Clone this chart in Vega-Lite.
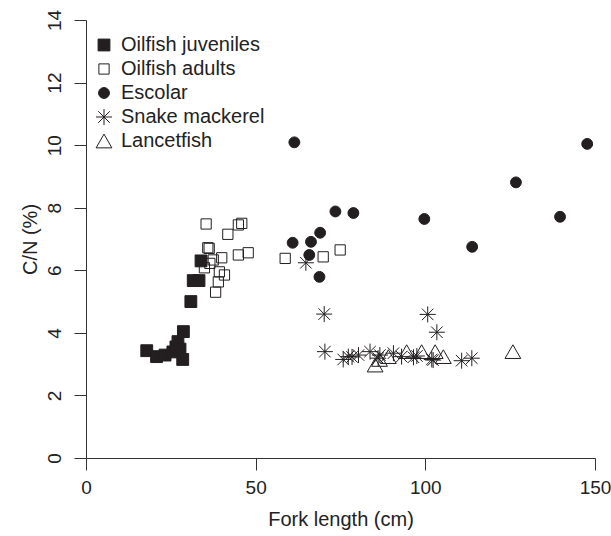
{
  "$schema": "https://vega.github.io/schema/vega-lite/v6.json",
  "width": 509,
  "height": 438,
  "autosize": {"type": "none"},
  "padding": {"left": 86, "top": 20, "right": 16, "bottom": 78},
  "background": "white",
  "config": {
    "view": {"stroke": null},
    "font": "Liberation Sans",
    "axis": {"grid": false, "domainColor": "#333", "tickColor": "#333", "labelColor": "#222", "titleColor": "#222", "labelFont": "Liberation Sans", "titleFont": "Liberation Sans", "labelFontSize": 19, "titleFontSize": 20, "titleFontWeight": "normal", "tickSize": 12, "domainWidth": 1, "tickWidth": 1},
    "legend": {"labelFont": "Liberation Sans", "labelFontSize": 20, "labelColor": "#222"}
  },
  "data": {"values": [
    {"s": "Oilfish juveniles", "fl": 17.9, "cn": 3.43},
    {"s": "Oilfish juveniles", "fl": 20.8, "cn": 3.24},
    {"s": "Oilfish juveniles", "fl": 23.3, "cn": 3.29},
    {"s": "Oilfish juveniles", "fl": 25.6, "cn": 3.39},
    {"s": "Oilfish juveniles", "fl": 26.5, "cn": 3.55},
    {"s": "Oilfish juveniles", "fl": 27.1, "cn": 3.72},
    {"s": "Oilfish juveniles", "fl": 27.7, "cn": 3.48},
    {"s": "Oilfish juveniles", "fl": 28.7, "cn": 4.04},
    {"s": "Oilfish juveniles", "fl": 28.5, "cn": 3.15},
    {"s": "Oilfish juveniles", "fl": 30.9, "cn": 5.0},
    {"s": "Oilfish juveniles", "fl": 31.6, "cn": 5.67},
    {"s": "Oilfish juveniles", "fl": 33.3, "cn": 5.67},
    {"s": "Oilfish juveniles", "fl": 33.9, "cn": 6.3},
    {"s": "Oilfish adults", "fl": 35.4, "cn": 7.48},
    {"s": "Oilfish adults", "fl": 41.8, "cn": 7.15},
    {"s": "Oilfish adults", "fl": 44.9, "cn": 7.45},
    {"s": "Oilfish adults", "fl": 45.9, "cn": 7.5},
    {"s": "Oilfish adults", "fl": 35.9, "cn": 6.72},
    {"s": "Oilfish adults", "fl": 36.3, "cn": 6.7},
    {"s": "Oilfish adults", "fl": 40.0, "cn": 6.4},
    {"s": "Oilfish adults", "fl": 44.9, "cn": 6.49},
    {"s": "Oilfish adults", "fl": 47.8, "cn": 6.56},
    {"s": "Oilfish adults", "fl": 34.9, "cn": 6.08},
    {"s": "Oilfish adults", "fl": 36.5, "cn": 6.22},
    {"s": "Oilfish adults", "fl": 37.5, "cn": 6.33},
    {"s": "Oilfish adults", "fl": 39.3, "cn": 5.95},
    {"s": "Oilfish adults", "fl": 40.8, "cn": 5.85},
    {"s": "Oilfish adults", "fl": 39.0, "cn": 5.63},
    {"s": "Oilfish adults", "fl": 38.2, "cn": 5.3},
    {"s": "Oilfish adults", "fl": 58.7, "cn": 6.38},
    {"s": "Oilfish adults", "fl": 69.9, "cn": 6.43},
    {"s": "Oilfish adults", "fl": 74.9, "cn": 6.65},
    {"s": "Escolar", "fl": 61.4, "cn": 10.09},
    {"s": "Escolar", "fl": 147.7, "cn": 10.04},
    {"s": "Escolar", "fl": 126.7, "cn": 8.81},
    {"s": "Escolar", "fl": 73.5, "cn": 7.88},
    {"s": "Escolar", "fl": 78.8, "cn": 7.83},
    {"s": "Escolar", "fl": 99.7, "cn": 7.64},
    {"s": "Escolar", "fl": 139.7, "cn": 7.71},
    {"s": "Escolar", "fl": 69.0, "cn": 7.2},
    {"s": "Escolar", "fl": 60.9, "cn": 6.88},
    {"s": "Escolar", "fl": 66.3, "cn": 6.91},
    {"s": "Escolar", "fl": 65.8, "cn": 6.49},
    {"s": "Escolar", "fl": 113.8, "cn": 6.75},
    {"s": "Escolar", "fl": 68.8, "cn": 5.79},
    {"s": "Snake mackerel", "fl": 64.8, "cn": 6.24},
    {"s": "Snake mackerel", "fl": 70.2, "cn": 4.6},
    {"s": "Snake mackerel", "fl": 100.7, "cn": 4.59},
    {"s": "Snake mackerel", "fl": 103.4, "cn": 4.02},
    {"s": "Snake mackerel", "fl": 70.4, "cn": 3.4},
    {"s": "Snake mackerel", "fl": 75.8, "cn": 3.15},
    {"s": "Snake mackerel", "fl": 77.3, "cn": 3.24},
    {"s": "Snake mackerel", "fl": 78.4, "cn": 3.23},
    {"s": "Snake mackerel", "fl": 80.3, "cn": 3.29},
    {"s": "Snake mackerel", "fl": 83.7, "cn": 3.4},
    {"s": "Snake mackerel", "fl": 86.1, "cn": 3.19},
    {"s": "Snake mackerel", "fl": 86.6, "cn": 3.29},
    {"s": "Snake mackerel", "fl": 90.6, "cn": 3.35},
    {"s": "Snake mackerel", "fl": 93.0, "cn": 3.24},
    {"s": "Snake mackerel", "fl": 96.5, "cn": 3.22},
    {"s": "Snake mackerel", "fl": 97.5, "cn": 3.26},
    {"s": "Snake mackerel", "fl": 101.9, "cn": 3.15},
    {"s": "Snake mackerel", "fl": 102.3, "cn": 3.13},
    {"s": "Snake mackerel", "fl": 110.7, "cn": 3.11},
    {"s": "Snake mackerel", "fl": 113.7, "cn": 3.19},
    {"s": "Lancetfish", "fl": 85.2, "cn": 2.97},
    {"s": "Lancetfish", "fl": 86.5, "cn": 3.15},
    {"s": "Lancetfish", "fl": 89.1, "cn": 3.24},
    {"s": "Lancetfish", "fl": 94.5, "cn": 3.4},
    {"s": "Lancetfish", "fl": 98.9, "cn": 3.4},
    {"s": "Lancetfish", "fl": 102.9, "cn": 3.4},
    {"s": "Lancetfish", "fl": 105.3, "cn": 3.24},
    {"s": "Lancetfish", "fl": 125.8, "cn": 3.4}
  ]},
  "mark": {"type": "point", "filled": true, "opacity": 1, "strokeWidth": 1},
  "encoding": {
    "x": {"field": "fl", "type": "quantitative", "scale": {"domain": [0, 150], "nice": false, "zero": false},
      "axis": {"title": "Fork length (cm)", "values": [0, 50, 100, 150], "labelPadding": 8, "titlePadding": 12, "labelFlush": false}},
    "y": {"field": "cn", "type": "quantitative", "scale": {"domain": [0, 14], "nice": false, "zero": false},
      "axis": {"title": "C/N (%)", "values": [0, 2, 4, 6, 8, 10, 12, 14], "labelAngle": -90, "labelAlign": "center", "labelBaseline": "bottom", "labelPadding": 10, "titlePadding": 5, "labelFlush": false}},
    "shape": {"field": "s", "type": "nominal", "title": null,
      "scale": {"type": "ordinal", "domain": ["Oilfish juveniles", "Oilfish adults", "Escolar", "Snake mackerel", "Lancetfish"],
        "range": ["square", "square", "circle", "M-1,0L1,0M0,-1L0,1M-0.72,-0.72L0.72,0.72M-0.72,0.72L0.72,-0.72", "triangle-up"]}},
    "fill": {"field": "s", "type": "nominal", "title": null,
      "scale": {"type": "ordinal", "domain": ["Oilfish juveniles", "Oilfish adults", "Escolar", "Snake mackerel", "Lancetfish"],
        "range": ["#231f20", "transparent", "#231f20", "transparent", "transparent"]}},
    "stroke": {"field": "s", "type": "nominal", "title": null,
      "scale": {"type": "ordinal", "domain": ["Oilfish juveniles", "Oilfish adults", "Escolar", "Snake mackerel", "Lancetfish"],
        "range": ["#231f20", "#231f20", "#231f20", "#231f20", "#231f20"]}},
    "size": {"field": "s", "type": "nominal", "title": null,
      "scale": {"type": "ordinal", "domain": ["Oilfish juveniles", "Oilfish adults", "Escolar", "Snake mackerel", "Lancetfish"],
        "range": [140, 105, 118, 256, 250]},
      "legend": {"orient": "none", "legendX": 8, "legendY": 15, "labelOffset": 7, "rowPadding": 4, "symbolStrokeWidth": 1}}
  }
}
